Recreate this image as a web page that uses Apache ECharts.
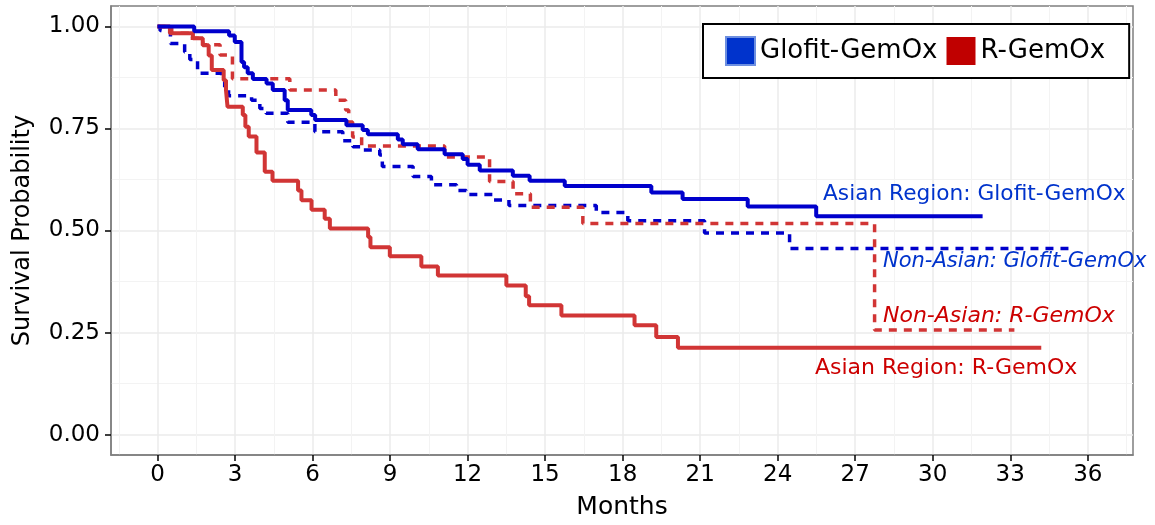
<!DOCTYPE html>
<html>
<head>
<meta charset="UTF-8">
<title>Survival by region</title>
<script src="https://cdn.jsdelivr.net/npm/echarts@6/dist/echarts.min.js"></script>
<style>
  * { margin: 0; padding: 0; }
  body { background: #fff; }
  #main { width: 1155px; height: 525px; }
</style>
</head>
<body>
<div id="main"></div>
<script>
// months / survival probability
var asiaGlofitT = [0, 1.42, 2.77, 2.99, 3.25, 3.35, 3.49, 3.69, 4.22, 4.46, 4.92, 5.04, 5.95, 6.1, 7.31, 7.94, 8.14, 9.3, 9.49, 10.07, 11.11, 11.81, 12.0, 12.47, 13.75, 14.4, 15.76, 19.11, 20.32, 22.84, 25.49, 31.93];
var asiaGlofitS = [1, 0.988, 0.978, 0.962, 0.913, 0.9, 0.885, 0.871, 0.86, 0.844, 0.819, 0.795, 0.783, 0.771, 0.758, 0.746, 0.736, 0.723, 0.711, 0.699, 0.687, 0.675, 0.661, 0.647, 0.634, 0.622, 0.609, 0.593, 0.577, 0.559, 0.535, 0.535];

var asiaRT = [0, 0.48, 1.37, 1.75, 1.98, 2.1, 2.56, 2.65, 2.71, 3.3, 3.4, 3.53, 3.83, 4.15, 4.45, 5.44, 5.57, 5.96, 6.47, 6.67, 8.15, 8.24, 8.99, 10.21, 10.85, 13.5, 14.25, 14.38, 15.63, 18.46, 19.3, 20.14, 34.2];
var asiaRS = [1, 0.983, 0.971, 0.954, 0.929, 0.893, 0.868, 0.844, 0.803, 0.783, 0.754, 0.73, 0.691, 0.644, 0.622, 0.598, 0.574, 0.551, 0.529, 0.505, 0.484, 0.459, 0.437, 0.412, 0.39, 0.365, 0.339, 0.317, 0.292, 0.268, 0.239, 0.213, 0.213];

var nonAsiaGlofitT = [0, 0.1, 0.5, 1.05, 1.25, 1.55, 2.48, 2.6, 2.75, 3.64, 3.96, 4.2, 5.04, 6.09, 7.17, 7.56, 7.89, 8.6, 8.7, 9.89, 10.6, 11.57, 11.95, 12.98, 13.6, 16.98, 18.2, 21.17, 24.46, 35.4];
var nonAsiaGlofitS = [1, 0.99, 0.958, 0.937, 0.919, 0.885, 0.868, 0.844, 0.83, 0.819, 0.799, 0.787, 0.765, 0.742, 0.72, 0.705, 0.697, 0.685, 0.657, 0.632, 0.612, 0.598, 0.588, 0.575, 0.561, 0.544, 0.524, 0.494, 0.456, 0.456];

var nonAsiaRT = [0, 0.55, 1.2, 1.75, 2.42, 2.9, 5.12, 6.9, 7.28, 7.4, 7.55, 7.9, 11.11, 12.85, 13.76, 14.43, 16.46, 27.75, 33.16];
var nonAsiaRS = [1, 0.983, 0.971, 0.955, 0.93, 0.872, 0.844, 0.819, 0.795, 0.766, 0.729, 0.707, 0.68, 0.62, 0.59, 0.557, 0.517, 0.256, 0.256];

var xTicks = [0, 3, 6, 9, 12, 15, 18, 21, 24, 27, 30, 33, 36];
var xMinor = [-1.5, 1.5, 4.5, 7.5, 10.5, 13.5, 16.5, 19.5, 22.5, 25.5, 28.5, 31.5, 34.5, 37.5];
var yTicks = [0, 0.25, 0.5, 0.75, 1];
var yMinor = [0.125, 0.375, 0.625, 0.875];

var FONT = 'DejaVu Sans';
var BLUE = '#0000cc';
var RED = '#d13535';

function pairs(t, s) {
  return t.map(function (v, i) { return [v, s[i]]; });
}

function curve(name, t, s, color, dashed) {
  return {
    name: name,
    type: 'line',
    step: 'end',
    showSymbol: false,
    symbol: 'none',
    silent: true,
    data: pairs(t, s),
    lineStyle: { color: color, width: dashed ? 3.5 : 4, type: dashed ? [8, 7] : 'solid' }
  };
}

var myChart = echarts.init(document.getElementById('main'));
var option = {
  animation: false,
  backgroundColor: '#fff',
  grid: {
    left: 111, right: 22, top: 6, bottom: 69,
    show: true, borderColor: '#7f7f7f', borderWidth: 1.5, backgroundColor: 'transparent'
  },
  legend: {
    left: 703, top: 24,
    selectedMode: false,
    backgroundColor: '#fff',
    borderColor: '#000',
    borderWidth: 2,
    padding: [12, 24, 12, 22],
    itemWidth: 29, itemHeight: 28, itemGap: 9,
    textStyle: { fontSize: 26, fontFamily: FONT, color: '#000' },
    data: [
      { name: 'Glofit-GemOx', icon: 'rect', itemStyle: { color: '#0033cc', opacity: 1, borderColor: '#6d8fe0', borderWidth: 2 } },
      { name: 'R-GemOx', icon: 'rect', itemStyle: { color: '#c00000', opacity: 1, borderWidth: 0 } }
    ]
  },
  xAxis: [{
    type: 'value', min: -1.8, max: 37.75,
    axisLine: { show: true, onZero: false, lineStyle: { color: '#7f7f7f', width: 1.5 } },
    axisTick: { show: true, length: 6, customValues: xTicks, lineStyle: { color: '#000', width: 1.5 } },
    axisLabel: { customValues: xTicks, fontSize: 23, fontFamily: FONT, color: '#000', margin: 9 },
    splitLine: { show: true, lineStyle: { color: '#ebebeb', width: 1.5 } },
    name: 'Months', nameLocation: 'middle', nameGap: 40,
    nameTextStyle: { fontSize: 25, fontFamily: FONT, color: '#000' }
  }, {
    type: 'value', min: -1.8, max: 37.75,
    axisLine: { show: false, onZero: false },
    axisTick: { show: false, customValues: xMinor },
    axisLabel: { show: false, customValues: xMinor },
    splitLine: { show: true, lineStyle: { color: '#f3f3f3', width: 1 } }
  }],
  yAxis: [{
    type: 'value', min: -0.05, max: 1.05,
    axisLine: { show: true, onZero: false, lineStyle: { color: '#7f7f7f', width: 1.5 } },
    axisTick: { show: true, length: 6, customValues: yTicks, lineStyle: { color: '#000', width: 1.5 } },
    axisLabel: {
      customValues: yTicks, fontSize: 23, fontFamily: FONT, color: '#000', margin: 11,
      formatter: function (v) { return v.toFixed(2); }
    },
    splitLine: { show: true, lineStyle: { color: '#ebebeb', width: 1.5 } },
    name: 'Survival Probability', nameLocation: 'middle', nameGap: 76,
    nameTextStyle: { fontSize: 24, fontFamily: FONT, color: '#000' }
  }, {
    type: 'value', min: -0.05, max: 1.05,
    axisLine: { show: false, onZero: false },
    axisTick: { show: false, customValues: yMinor },
    axisLabel: { show: false, customValues: yMinor },
    splitLine: { show: true, lineStyle: { color: '#f3f3f3', width: 1 } }
  }],
  series: [
    curve('Non-Asian: Glofit-GemOx', nonAsiaGlofitT, nonAsiaGlofitS, BLUE, true),
    curve('Non-Asian: R-GemOx', nonAsiaRT, nonAsiaRS, RED, true),
    curve('Asian Region: R-GemOx', asiaRT, asiaRS, RED, false),
    curve('Asian Region: Glofit-GemOx', asiaGlofitT, asiaGlofitS, BLUE, false),
    { name: 'Glofit-GemOx', type: 'scatter', data: [], itemStyle: { color: '#0033cc', opacity: 1 } },
    { name: 'R-GemOx', type: 'scatter', data: [], itemStyle: { color: '#c00000', opacity: 1 } }
  ],
  graphic: [
    { type: 'text', x: 823, y: 194, z: 100, style: { text: 'Asian Region: Glofit-GemOx', fill: '#0033cc', font: '21.7px "DejaVu Sans"', verticalAlign: 'middle' } },
    { type: 'text', x: 883, y: 262, z: 100, style: { text: 'Non-Asian: Glofit-GemOx', fill: '#0033cc', font: 'italic 21px "DejaVu Sans"', verticalAlign: 'middle' } },
    { type: 'text', x: 883, y: 316, z: 100, style: { text: 'Non-Asian: R-GemOx', fill: '#cc0000', font: 'italic 22px "DejaVu Sans"', verticalAlign: 'middle' } },
    { type: 'text', x: 815, y: 368, z: 100, style: { text: 'Asian Region: R-GemOx', fill: '#cc0000', font: '22px "DejaVu Sans"', verticalAlign: 'middle' } }
  ]
};
myChart.setOption(option);
</script>
</body>
</html>
